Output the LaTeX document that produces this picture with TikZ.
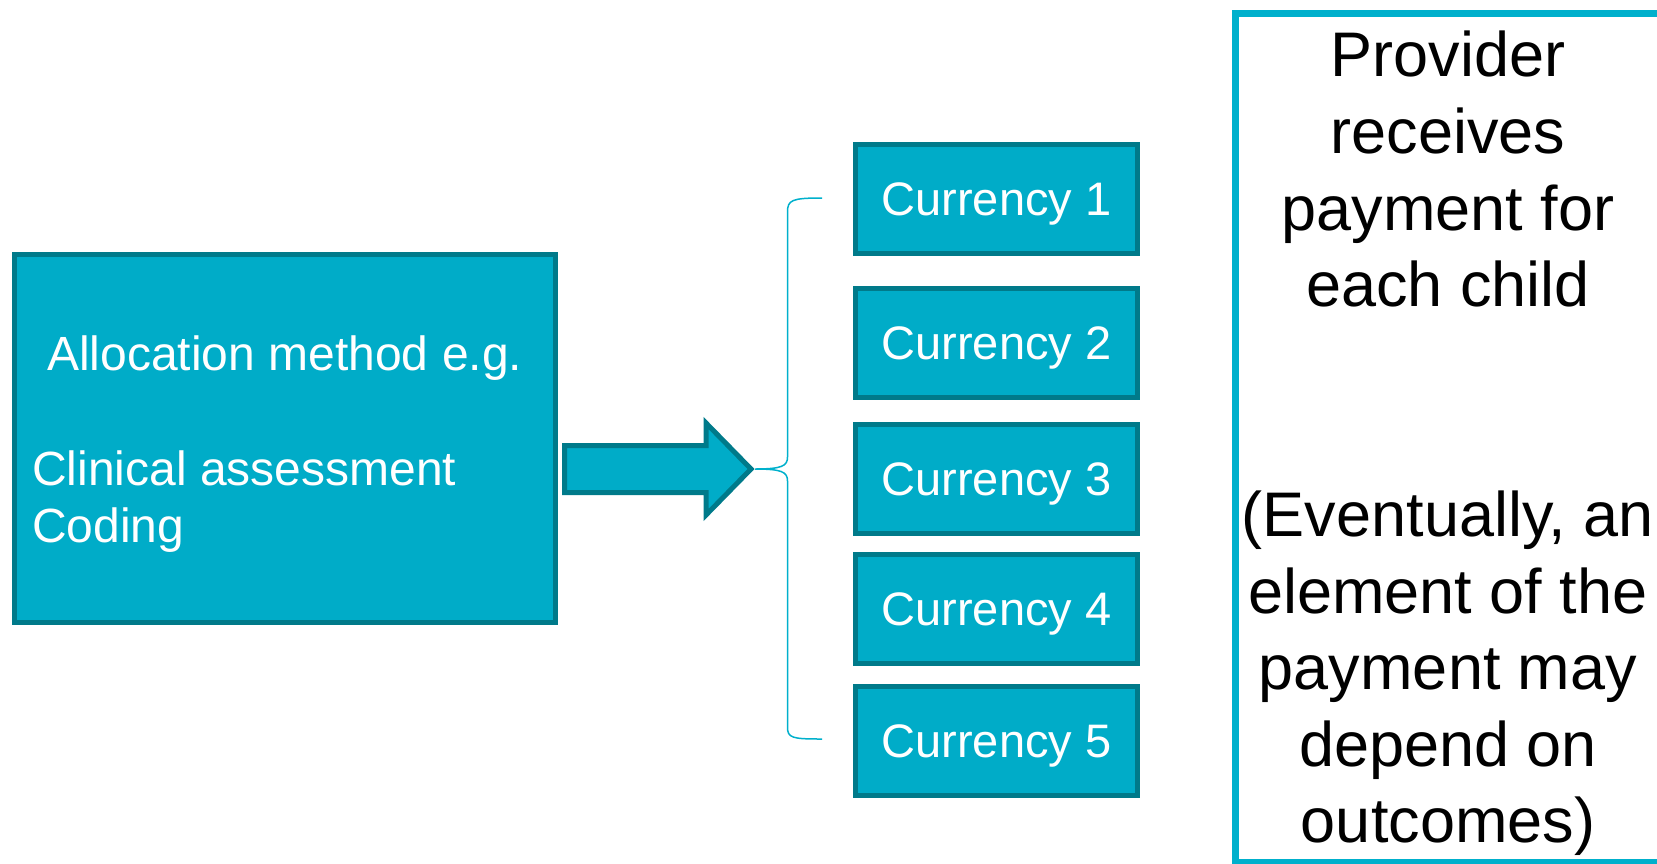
\documentclass[tikz,border=0pt]{standalone}
\usepackage{fontspec}
\setmainfont{Liberation Sans}
\usepackage{tikz}
\usetikzlibrary{positioning}

\definecolor{boxfill}{RGB}{0,172,200}
\definecolor{boxline}{RGB}{0,122,138}
\definecolor{panelline}{RGB}{0,176,204}

\begin{document}
\begin{tikzpicture}[x=1pt,y=-1pt,
	box/.style={draw=boxline, fill=boxfill, line width=5pt},
	currency/.style={box, text=white, minimum width=282pt, minimum height=109pt,
		inner sep=0pt, text depth=0pt, font=\fontsize{47}{57}\selectfont},
	brace/.style={draw=panelline, line width=1.5pt}]
\useasboundingbox (0,0) rectangle (1657,863);
\clip (0,0) rectangle (1657,863);

% allocation box
\node[box, minimum width=541pt, minimum height=367.5pt] (alloc) at (285,438.25) {};
\node[anchor=north west, inner sep=0pt, align=left, text=white,
	font=\fontsize{48}{57}\selectfont] (allocText) at (32,336)
	{\hspace*{15pt}Allocation method e.g.\\[58pt]Clinical assessment\\Coding};

% block arrow
\draw[box] (564.5,445.5) -- (706,445.5) -- (706,423) -- (751,469)
	-- (706,515) -- (706,492.5) -- (564.5,492.5) -- cycle;
\coordinate (tip) at (755,469);

% brace
\draw[brace] (822,198) .. controls (792,198) and (787.5,200) .. (787.5,212)
	-- (787.5,457) .. controls (787.5,466) and (782,469) .. (tip)
	.. controls (782,469) and (787.5,472) .. (787.5,481)
	-- (787.5,727) .. controls (787.5,738) and (792,739) .. (822,739);

% currencies
\foreach \n/\y in {1/199,2/343,3/479,4/609,5/741}
	\node[currency] (cur\n) at (996.5,\y) {Currency \n};

% payment panel
\node[draw=panelline, line width=7pt, minimum width=424.5pt, minimum height=848.5pt,
	inner sep=0pt] (panel) at (1447.75,437.75) {};
\node[anchor=north, inner sep=0pt, align=center,
	font=\fontsize{63}{76.6}\selectfont] (payText) at (1448,31)
	{Provider\\receives\\payment for\\each child\\[153.2pt](Eventually, an\\element of the\\payment may\\depend on\\outcomes)};
\end{tikzpicture}
\end{document}
